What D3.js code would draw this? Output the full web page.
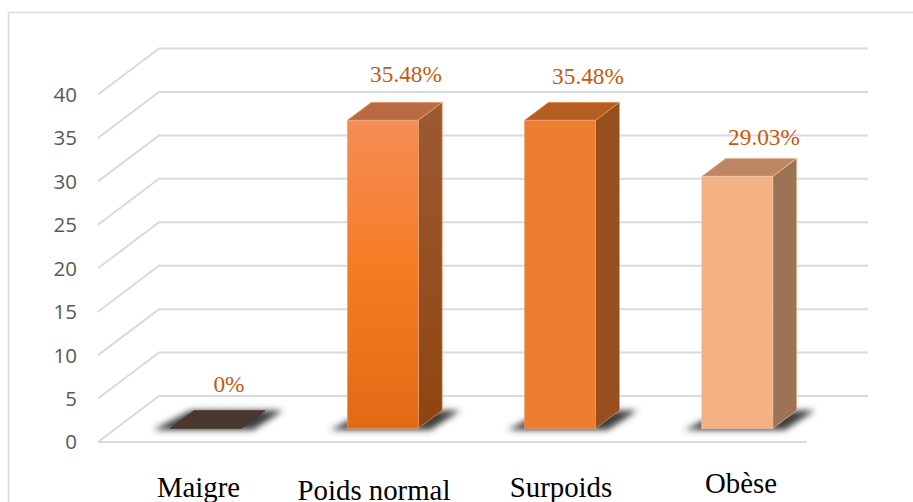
<!DOCTYPE html>
<html><head><meta charset="utf-8">
<script src="https://cdn.jsdelivr.net/npm/d3@7"></script>
<style>html,body{margin:0;padding:0;background:#fff;overflow:hidden}svg{display:block}</style>
</head><body><svg id="c" width="913" height="502"></svg>
<script>
const categories = ["Maigre", "Poids normal", "Surpoids", "Obèse"];
const values = [0, 35.48, 35.48, 29.03];
const valueLabels = ["0%", "35.48%", "35.48%", "29.03%"];
const yTicks = [0, 5, 10, 15, 20, 25, 30, 35, 40];

const frontColors = [["#4A372F","#4A372F","#4A372F"],["#F58D55","#F57B22","#E36A15"],["#ED7D31","#ED7D31","#ED7D31"],["#F4B183","#F4B183","#F4B183"]];
const sideColors = [["#4A372F","#4A372F"],["#9C5A32","#8F4511"],["#97501D","#97501D"],["#9C7355","#9C7355"]];
const topColors = ["#4A372F","#B86B40","#B45E22","#BC8762"];
const edgeColors = ["#4A372F","#F7A67A","#F2A06A","#F8C9A8"];
const labelCx = [229, 406, 588, 764];
const labelRise = [36.5, 38, 36, 31];
const catCx = [198.5, 374, 561, 741];
const catBase = [497, 500, 497, 493];

const svg = d3.select("#c");
const y = d3.scaleLinear().domain([0, 40]).range([442, 94.5]);
const wall = {dx: 61, dy: -46};
const barOff = {dy: -13.5};
const barDepth = {dx: 24, dy: -18};
const x = d3.scaleBand().domain(categories).range([98, 807]);
const bw = 71;
const barX = c => x(c) + 72;

const defs = svg.append("defs");
defs.append("filter").attr("id","blur").attr("x","-30%").attr("y","-60%").attr("width","160%").attr("height","220%")
  .append("feGaussianBlur").attr("stdDeviation",3);
const grad = (id, cols) => {
  const g = defs.append("linearGradient").attr("id",id).attr("x1",0).attr("y1",0).attr("x2",0).attr("y2",1);
  cols.forEach((c,i)=>g.append("stop").attr("offset",i/(cols.length-1)).attr("stop-color",c));
};
categories.forEach((c,i)=>{grad("f"+i,frontColors[i]);grad("s"+i,sideColors[i]);});

svg.append("rect").attr("x",8.5).attr("y",12.5).attr("width",920).attr("height",500)
  .attr("fill","#fff").attr("stroke","#D9D9D9").attr("stroke-width",1.5);

const line = d3.line();
svg.append("g").selectAll("path").data(yTicks).join("path")
  .attr("d", t => line([[98,y(t)],[98+wall.dx,y(t)+wall.dy],[807+wall.dx,y(t)+wall.dy]]))
  .attr("fill","none").attr("stroke","#DADADA").attr("stroke-width",2);
svg.append("path").attr("d", line([[98,y(0)],[807,y(0)]])).attr("stroke","#DADADA").attr("stroke-width",2).attr("fill","none");

svg.append("g").selectAll("text").data(yTicks).join("text")
  .attr("x",77).attr("y",t=>y(t)+7.4).attr("text-anchor","end")
  .attr("font-family","'Open Sans'").attr("font-size",20.5).attr("fill","#595959").text(d=>d);

const bars = svg.append("g").selectAll("g").data(categories).join("g");
const base = y(0) + barOff.dy;
bars.append("path").attr("filter","url(#blur)").attr("fill","#3c3c3c")
  .attr("d", c => { const a=barX(c), b=a+bw; return line([[a-17,base+1.5],[b+12,base+1.5],[b+42,base-18],[a+21,base-18]])+"Z"; });
bars.append("path").attr("fill",(c,i)=>`url(#s${i})`).attr("stroke",(c,i)=>edgeColors[i]).attr("stroke-width",0.6)
  .attr("d",(c,i)=>{const b=barX(c)+bw,t=y(values[i])+barOff.dy;return line([[b,t],[b+barDepth.dx,t+barDepth.dy],[b+barDepth.dx,base+barDepth.dy],[b,base]])+"Z";});
bars.append("path").attr("fill",(c,i)=>topColors[i]).attr("stroke",(c,i)=>edgeColors[i]).attr("stroke-width",0.6)
  .attr("d",(c,i)=>{const a=barX(c),b=a+bw,t=y(values[i])+barOff.dy;return line([[a,t],[b,t],[b+barDepth.dx,t+barDepth.dy],[a+barDepth.dx,t+barDepth.dy]])+"Z";});
bars.append("rect").attr("x",barX).attr("width",bw)
  .attr("y",(c,i)=>y(values[i])+barOff.dy).attr("height",(c,i)=>base-(y(values[i])+barOff.dy))
  .attr("fill",(c,i)=>`url(#f${i})`).attr("stroke",(c,i)=>edgeColors[i]).attr("stroke-width",0.6);

svg.append("g").selectAll("text").data(valueLabels).join("text")
  .attr("x",(d,i)=>labelCx[i]).attr("y",(d,i)=>y(values[i])+barOff.dy-labelRise[i])
  .attr("text-anchor","middle").attr("font-family","'Liberation Serif'").attr("font-size",23.3).attr("fill","#C55A11").text(d=>d);

svg.append("g").selectAll("text").data(categories).join("text")
  .attr("x",(d,i)=>catCx[i]).attr("y",(d,i)=>catBase[i])
  .attr("text-anchor","middle").attr("font-family","'Liberation Serif'").attr("font-size",28.8).attr("fill","#000").text(d=>d);
</script></body></html>
